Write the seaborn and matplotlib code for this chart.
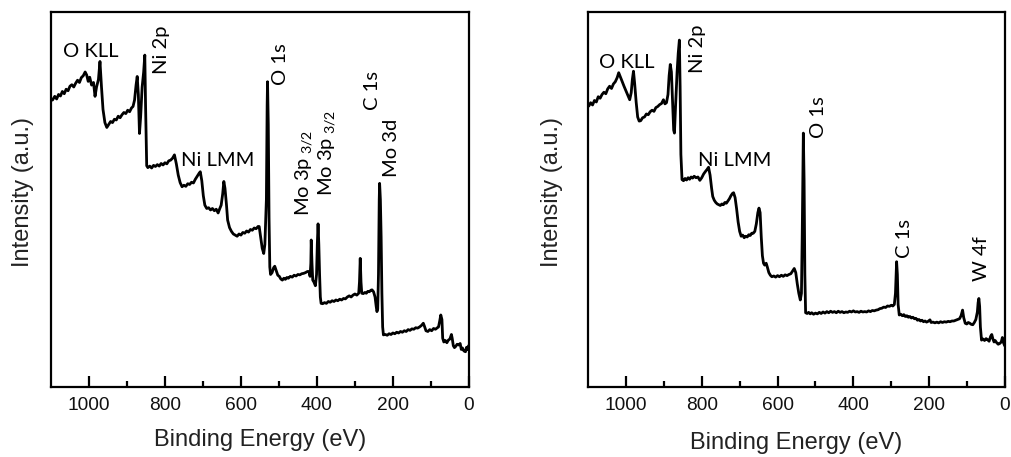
import numpy as np
import pandas as pd
import matplotlib
matplotlib.use("Agg")
import matplotlib.pyplot as plt
import seaborn as sns

# ---------------- data ----------------
energy_left = [1096, 1090, 1085, 1080, 1075, 1070, 1065, 1060, 1055, 1050, 1045, 1040, 1035, 1030, 1025,
               1020, 1015, 1010, 1006, 1002, 998, 993, 988, 984, 980, 975, 971, 967, 963, 958, 953, 948,
               943, 938, 933, 928, 923, 918, 913, 908, 903, 898, 893, 888, 884, 880, 876, 873, 870, 867,
               864, 860, 856, 853, 851, 848, 845, 840, 835, 830, 825, 820, 815, 810, 805, 800, 795, 790,
               785, 780, 775, 770, 765, 760, 755, 750, 745, 740, 735, 730, 725, 720, 715, 710, 707, 703,
               699, 695, 690, 685, 680, 675, 670, 665, 660, 656, 652, 648, 645, 642, 638, 635, 630, 625,
               620, 615, 610, 605, 600, 595, 590, 585, 580, 575, 570, 565, 560, 555, 552, 548, 544, 540,
               537, 533, 531, 530, 528, 526, 524, 522, 518, 514, 511, 507, 503, 499, 495, 491, 487, 483,
               479, 475, 470, 465, 460, 455, 450, 445, 440, 435, 430, 425, 421, 418, 416, 415, 413, 411,
               408, 404, 401, 399, 397, 395, 393, 391, 389, 385, 380, 375, 370, 365, 360, 355, 350, 345,
               340, 335, 330, 325, 320, 315, 310, 305, 300, 295, 290, 288, 286, 284, 282, 278, 274, 270,
               266, 262, 258, 255, 251, 247, 244, 242, 240, 238, 236, 235, 233, 231, 229, 227, 225, 220,
               215, 210, 205, 200, 195, 190, 185, 180, 175, 170, 165, 160, 155, 150, 145, 140, 135, 130,
               125, 120, 117, 113, 108, 103, 98, 93, 88, 83, 80, 77, 74, 71, 69, 66, 62, 58, 54, 50, 46,
               44, 41, 38, 35, 31, 27, 23, 20, 17, 13, 9, 6, 3, 1]
intensity_left = [76.5, 77.5, 76.8, 78.0, 77.6, 78.8, 78.2, 79.4, 79.0, 80.2, 80.6, 80.0, 81.0, 81.8, 81.2,
                  82.5, 83.0, 84.0, 83.2, 81.5, 82.6, 80.5, 81.2, 77.5, 80.0, 82.0, 86.8, 80.0, 74.0, 70.5,
                  69.2, 70.0, 70.8, 70.5, 71.4, 71.2, 72.2, 71.8, 72.6, 73.2, 72.9, 73.8, 73.4, 74.4, 74.8,
                  76.5, 80.5, 82.8, 78.0, 67.6, 72.0, 80.0, 84.0, 88.5, 75.0, 59.0, 58.5, 58.9, 58.4, 59.1,
                  58.8, 59.3, 58.9, 59.6, 59.2, 59.8, 59.5, 60.3, 60.5, 61.0, 61.9, 59.5, 56.5, 54.5, 53.4,
                  53.8, 53.5, 54.2, 54.0, 54.6, 54.4, 55.4, 56.2, 57.0, 57.4, 55.0, 51.0, 48.5, 47.6, 47.8,
                  47.2, 47.6, 47.0, 47.4, 46.4, 47.5, 48.5, 51.5, 54.8, 53.0, 48.5, 44.5, 42.5, 41.5, 40.8,
                  40.5, 40.2, 40.8, 40.5, 41.2, 41.0, 41.6, 41.3, 42.0, 41.8, 42.4, 42.2, 42.8, 42.8, 40.0,
                  37.0, 35.6, 38.0, 50.0, 75.0, 81.4, 70.0, 45.0, 32.0, 30.0, 30.5, 31.8, 32.2, 31.0, 29.8,
                  29.5, 28.8, 28.5, 29.0, 28.7, 29.2, 29.0, 29.5, 29.3, 29.8, 29.6, 30.0, 29.9, 30.2, 30.3,
                  30.5, 30.8, 30.8, 29.5, 33.0, 39.2, 33.0, 28.5, 28.0, 27.0, 30.0, 38.0, 43.5, 38.0, 30.0,
                  24.0, 22.3, 22.2, 22.5, 22.3, 22.8, 22.6, 23.0, 22.8, 23.2, 23.0, 23.4, 23.2, 23.6, 23.5,
                  24.0, 24.3, 24.0, 24.5, 24.8, 24.5, 25.0, 28.0, 34.3, 28.0, 25.0, 24.9, 25.2, 25.0, 25.5,
                  25.4, 25.8, 25.9, 25.4, 24.0, 21.5, 20.1, 20.8, 30.0, 50.0, 54.3, 50.0, 40.0, 25.0, 16.0,
                  13.9, 14.0, 13.8, 14.2, 14.0, 14.4, 14.2, 14.6, 14.4, 14.8, 14.6, 15.0, 14.8, 15.3, 15.1,
                  15.5, 15.4, 15.8, 15.7, 16.0, 16.4, 17.0, 16.2, 15.0, 14.8, 15.3, 15.0, 15.6, 15.4, 15.8,
                  16.0, 17.5, 19.2, 18.0, 13.0, 12.0, 12.4, 11.8, 12.5, 12.8, 14.0, 13.0, 11.0, 10.5, 10.8,
                  11.4, 11.2, 11.6, 10.0, 10.4, 9.6, 9.4, 10.6, 10.0, 11.0]

energy_right = [1098, 1093, 1088, 1083, 1078, 1073, 1068, 1063, 1058, 1053, 1048, 1043, 1038, 1033, 1028,
                1023, 1019, 1015, 1010, 1005, 1000, 995, 990, 986, 983, 980, 977, 973, 969, 965, 961, 956,
                951, 946, 941, 936, 931, 926, 921, 916, 911, 906, 901, 897, 893, 889, 886, 883, 880, 877,
                874, 872, 869, 865, 862, 859, 857, 855, 852, 848, 844, 840, 836, 832, 828, 824, 820, 815,
                810, 805, 800, 795, 790, 786, 782, 778, 774, 771, 767, 763, 759, 755, 751, 747, 743, 739,
                735, 731, 727, 723, 719, 716, 712, 708, 704, 700, 696, 692, 688, 684, 680, 676, 672, 668,
                664, 660, 656, 652, 649, 646, 643, 640, 637, 634, 630, 627, 623, 619, 615, 610, 605, 600,
                595, 590, 585, 580, 575, 570, 565, 560, 556, 552, 548, 544, 540, 537, 535, 533, 532, 530,
                528, 526, 522, 518, 514, 510, 505, 500, 495, 490, 485, 480, 475, 470, 465, 460, 455, 450,
                445, 440, 435, 430, 425, 420, 415, 410, 405, 400, 395, 390, 385, 380, 375, 370, 365, 360,
                355, 350, 345, 340, 335, 330, 325, 320, 315, 310, 305, 300, 296, 292, 289, 287, 286, 284,
                282, 279, 275, 271, 267, 263, 259, 255, 251, 247, 243, 239, 235, 231, 227, 223, 219, 215,
                211, 207, 203, 198, 195, 190, 185, 180, 175, 170, 165, 160, 155, 150, 145, 140, 135, 130,
                125, 120, 116, 112, 109, 105, 101, 97, 93, 89, 85, 81, 77, 73, 71, 69, 67, 65, 62, 58, 54,
                50, 46, 42, 38, 35, 32, 29, 26, 22, 18, 14, 10, 7, 4, 1]
intensity_right = [74.9, 75.8, 75.2, 76.4, 76.0, 77.4, 77.0, 78.0, 78.6, 78.2, 79.5, 80.2, 79.6, 80.8, 81.4,
                   82.5, 83.8, 82.8, 81.5, 80.2, 79.0, 77.8, 76.6, 78.5, 82.0, 84.2, 81.0, 76.0, 72.0, 70.9,
                   71.0, 71.8, 72.0, 72.8, 72.6, 73.4, 73.8, 73.5, 74.5, 74.8, 75.3, 75.6, 76.6, 75.5, 75.8,
                   78.0, 83.0, 86.0, 84.0, 76.0, 68.5, 67.7, 75.0, 84.0, 89.0, 92.5, 80.0, 62.0, 55.3, 55.0,
                   55.6, 55.2, 55.8, 55.4, 56.0, 55.7, 56.2, 55.8, 56.0, 55.1, 55.8, 56.8, 57.5, 58.0, 58.6,
                   56.5, 53.0, 50.8, 49.8, 49.2, 48.8, 48.6, 48.4, 48.8, 48.6, 49.2, 49.0, 49.6, 50.2, 51.0,
                   51.6, 51.8, 50.5, 47.5, 44.0, 41.5, 40.2, 40.5, 39.8, 40.2, 40.0, 40.6, 40.4, 41.0, 41.0,
                   41.5, 43.5, 46.5, 47.7, 46.5, 40.0, 35.0, 33.0, 32.5, 33.0, 32.0, 30.5, 29.8, 29.4, 29.6,
                   29.3, 29.7, 29.4, 29.8, 29.5, 29.9, 29.7, 30.0, 30.2, 31.0, 31.6, 30.5, 27.5, 25.0, 23.2,
                   25.0, 40.0, 60.0, 67.7, 55.0, 30.0, 19.8, 19.6, 19.9, 19.5, 19.8, 19.4, 19.7, 19.5, 19.9,
                   19.6, 20.0, 19.7, 20.1, 19.8, 20.2, 19.9, 20.1, 19.8, 20.2, 19.9, 20.1, 19.8, 20.0, 19.9,
                   20.2, 20.0, 20.3, 20.0, 20.1, 19.9, 20.2, 20.0, 20.1, 20.0, 20.3, 20.1, 20.4, 20.3, 20.5,
                   20.6, 20.9, 21.0, 21.3, 21.2, 21.6, 21.5, 21.8, 21.6, 22.0, 25.0, 31.0, 33.4, 30.0, 22.0,
                   19.2, 19.4, 19.0, 19.3, 18.8, 19.0, 18.6, 18.8, 18.4, 18.6, 18.2, 18.3, 17.8, 18.0, 17.6,
                   17.8, 17.4, 17.6, 17.3, 17.5, 17.9, 17.2, 17.3, 17.1, 17.3, 17.1, 17.4, 17.2, 17.4, 17.3,
                   17.5, 17.4, 17.6, 17.6, 17.8, 18.0, 18.2, 19.0, 20.5, 18.5, 17.0, 16.8, 17.2, 17.0, 16.7,
                   16.6, 17.2, 18.0, 20.0, 22.5, 23.6, 21.5, 16.0, 12.5, 12.8, 12.4, 12.9, 12.6, 12.2, 13.5,
                   14.0, 12.8, 12.0, 12.4, 11.8, 11.4, 11.6, 12.0, 13.2, 11.8, 11.0]

# peak labels: (text, energy, intensity, rotated)
labels_left = [("O KLL", 995, 88.0, False),
               ("Ni 2p", 808, 83.5, True),
               ("Ni LMM", 661, 58.8, False),
               ("O 1s", 495, 80.5, True),
               (r"Mo 3p$_{\ 3/2}$", 432, 45.6, True),
               (r"Mo 3p$_{\ 3/2}$", 373, 50.8, True),
               ("C 1s", 255, 73.9, True),
               ("Mo 3d", 205, 56.1, True)]
labels_right = [("O KLL", 998, 85.1, False),
                ("Ni 2p", 810, 83.8, True),
                ("Ni LMM", 713, 58.8, False),
                ("O 1s", 492, 66.4, True),
                ("C 1s", 266, 34.3, True),
                ("W 4f", 63, 28.3, True)]

x_major_ticks = [1000, 800, 600, 400, 200, 0]
x_minor_ticks = [900, 700, 500, 300, 100]

# ---------------- style ----------------
sns.set_theme(style="white")
plt.rcParams["font.family"] = ["Liberation Sans", "DejaVu Sans"]
plt.rcParams["mathtext.fontset"] = "custom"
plt.rcParams["mathtext.rm"] = "Lato"
plt.rcParams["mathtext.it"] = "Lato"

fig = plt.figure(figsize=(10.11, 4.57), dpi=100)
ax_l = fig.add_axes([0.0504, 0.1532, 0.4134, 0.8206])
ax_r = fig.add_axes([0.5816, 0.1532, 0.4125, 0.8206])

panels = [(ax_l, energy_left, intensity_left, labels_left, (-0.041, -0.112)),
          (ax_r, energy_right, intensity_right, labels_right, (-0.060, -0.120))]

for ax, e, i, labs, (ylx, xly) in panels:
    df = pd.DataFrame({"Binding Energy (eV)": e, "Intensity": i})
    sns.lineplot(data=df, x="Binding Energy (eV)", y="Intensity", ax=ax, color="black",
                 linewidth=2.0, sort=False, estimator=None)
    ax.set_xlim(1100, 0)
    ax.set_ylim(0, 100)
    ax.set_yticks([])
    ax.set_xticks(x_major_ticks)
    ax.set_xticks(x_minor_ticks, minor=True)
    ax.tick_params(axis="x", which="major", direction="in", length=8, width=1.6,
                   color="black", labelsize=13.8, pad=7, bottom=True, labelcolor="#111111")
    ax.tick_params(axis="x", which="minor", direction="in", length=4, width=1.6,
                   color="black", bottom=True)
    for s in ax.spines.values():
        s.set_visible(True)
        s.set_color("black")
        s.set_linewidth(1.6)
    ax.set_xlabel("Binding Energy (eV)", fontsize=17, color="#222222")
    ax.set_ylabel("Intensity (a.u.)", fontsize=17, color="#222222")
    ax.xaxis.set_label_coords(0.5, xly)
    ax.yaxis.set_label_coords(ylx, 0.52)
    for txt, xe, yi, rot in labs:
        if rot:
            ax.text(xe, yi, txt, rotation=90, ha="center", va="bottom",
                    fontsize=14.5, family=["Lato", "DejaVu Sans"], color="black")
        else:
            ax.text(xe, yi, txt, ha="center", va="baseline",
                    fontsize=14.5, family=["Lato", "DejaVu Sans"], color="black")

fig.savefig("out.png", dpi=100)
